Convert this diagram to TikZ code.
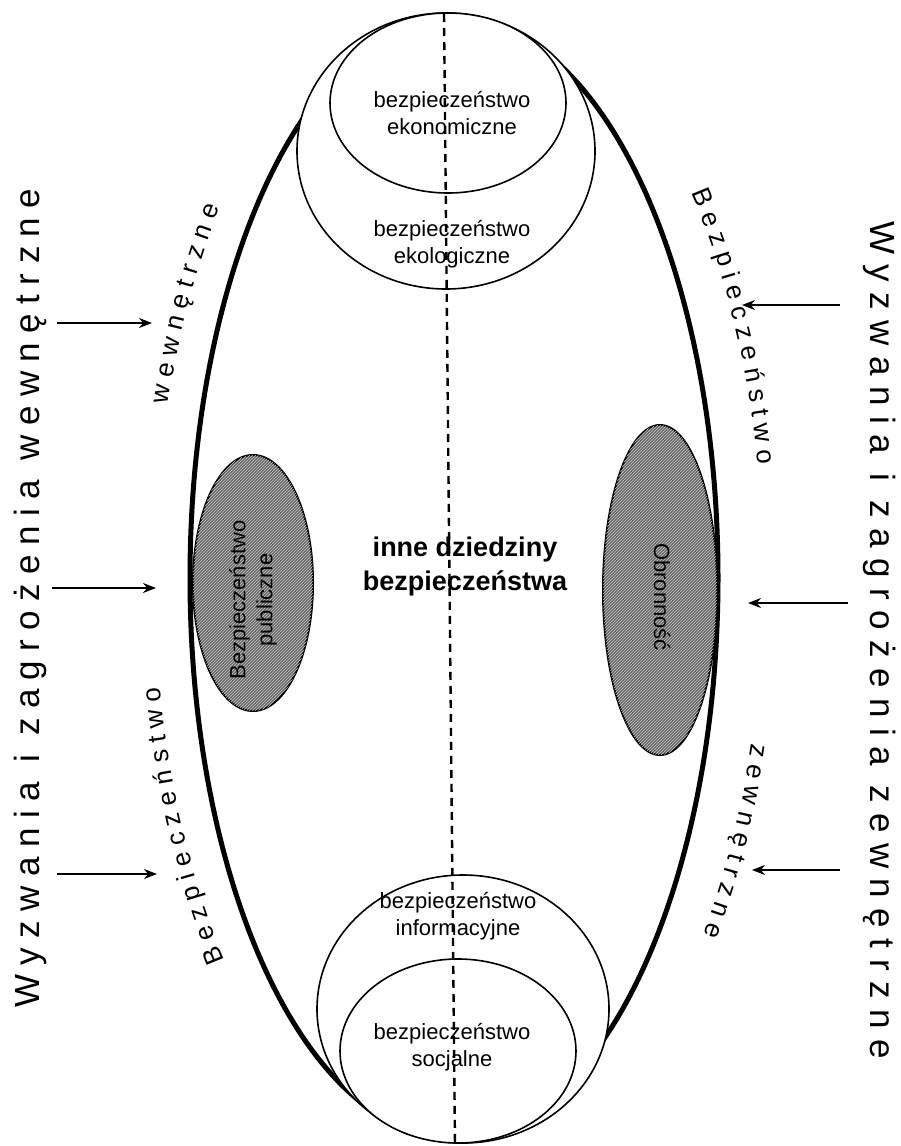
\documentclass[tikz,border=0pt]{standalone}
\usepackage{fontspec}
\setmainfont{Liberation Sans}
\newfontfamily\widesansL[LetterSpace=27]{Liberation Sans}
\newfontfamily\widesansR[LetterSpace=30]{Liberation Sans}
\usetikzlibrary{arrows.meta,decorations.text,patterns}
\newcommand\curvefont{\fontsize{26}{30}\selectfont}
\newcommand\wgap{\hspace{0.55em}}
\begin{document}
\begin{tikzpicture}[x=1pt,y=1pt,
  bigell/.style={line width=5pt},
  circ/.style={draw, line width=1.6pt, fill=white},
  lbl/.style={font=\fontsize{22}{27}\selectfont, align=center, inner sep=0pt},
  grayell/.style={draw, line width=2pt, fill=black!60, postaction={pattern=north east lines, pattern color=white!80!black}},
  arr/.style={line width=1.8pt, -{Stealth[length=13pt,width=10pt]}},
  sideL/.style={font=\widesansL\fontsize{35}{40}\selectfont, inner sep=0pt},
  sideR/.style={font=\widesansR\fontsize{35}{40}\selectfont, inner sep=0pt},
  midline/.style={line width=2.4pt, dash pattern=on 8pt off 6pt}
]
\useasboundingbox (0,0) rectangle (900,-1146);
\fill[white] (0,0) rectangle (900,-1146);

% main ellipse
\draw[bigell] (454,-578) ellipse [x radius=264, y radius=560];

% top circles
\draw[circ] (446,-151) ellipse [x radius=149, y radius=138];
\draw[circ] (448,-103) ellipse [x radius=118, y radius=90];
% bottom circles
\draw[circ] (463,-1009) ellipse [x radius=146, y radius=134];
\draw[circ] (458,-1051) ellipse [x radius=118, y radius=92];

\node[lbl] (econ) at (452,-113) {bezpieczeństwo\\ekonomiczne};
\node[lbl] (ecol) at (452,-244) {bezpieczeństwo\\ekologiczne};
\node[lbl] (info) at (458,-916) {bezpieczeństwo\\informacyjne};
\node[lbl] (soc) at (452,-1047) {bezpieczeństwo\\socjalne};

% gray ellipses
\draw[grayell] (253,-583) ellipse [x radius=60, y radius=128];
\draw[grayell] (660,-590) ellipse [x radius=57, y radius=165];
\node[lbl, rotate=90] (pub) at (253,-600) {Bezpieczeństwo\\publiczne};
\node[lbl, rotate=-90] (obr) at (662,-597) {Obronność};

% centre text
\node[font=\bfseries\fontsize{27}{34}\selectfont, align=center, inner sep=0pt] (inne) at (465,-567) {inne dziedziny\\bezpieczeństwa};

% curved texts
\path[decorate, decoration={text along path, text align=left, text={|\curvefont|B e z p i e c z e ń s t w o}}]
  plot[domain=220:160, samples=60] ({454+299*cos(\x)}, {-578+595*sin(\x)});
\path[decorate, decoration={text along path, text align=left, text={|\curvefont|w e w n ę t r z n e}}]
  plot[domain=163:110, samples=60] ({454+299*cos(\x)}, {-578+595*sin(\x)});
\path[decorate, decoration={text along path, text align=left, text={|\curvefont|B e z p i e c z e ń s t w o}}]
  plot[domain=40:-10, samples=60] ({454+310*cos(\x)}, {-578+600*sin(\x)});
\path[decorate, decoration={text along path, text align=left, text={|\curvefont|z e w n ę t r z n e}}]
  plot[domain=-16:-60, samples=60] ({454+310*cos(\x)}, {-578+600*sin(\x)});

% side texts
\node[sideL, rotate=90] (lt) at (30,-598) {Wyzwania\wgap i\wgap zagrożenia\wgap wewnętrzne};
\node[sideR, rotate=-90] (rt) at (880,-640) {Wyzwania\wgap i\wgap zagrożenia\wgap zewnętrzne};

% arrows
\coordinate (l1s) at (57,-323);  \coordinate (l1e) at (152,-323);
\coordinate (l2s) at (52,-588);  \coordinate (l2e) at (156,-588);
\coordinate (l3s) at (57,-874);  \coordinate (l3e) at (157,-874);
\coordinate (r1s) at (840,-305); \coordinate (r1e) at (742,-305);
\coordinate (r2s) at (848,-603); \coordinate (r2e) at (748,-603);
\coordinate (r3s) at (840,-870); \coordinate (r3e) at (752,-870);
\draw[arr] (l1s) -- (l1e);
\draw[arr] (l2s) -- (l2e);
\draw[arr] (l3s) -- (l3e);
\draw[arr] (r1s) -- (r1e);
\draw[arr] (r2s) -- (r2e);
\draw[arr] (r3s) -- (r3e);

% dashed axis
\coordinate (dtop) at (444,-14);
\coordinate (dbot) at (455,-1146);
\draw[midline] (dtop) -- (dbot);
\end{tikzpicture}
\end{document}
